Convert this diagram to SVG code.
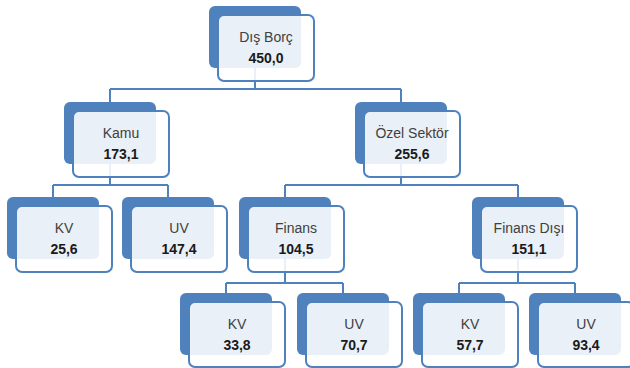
<svg xmlns="http://www.w3.org/2000/svg" width="630" height="368" viewBox="0 0 630 368">
<style>
.bg{fill:#4F81BD}
.fr{fill:#FFFFFF;fill-opacity:0.88;stroke:#4F81BD;stroke-width:2}
.cn{fill:none;stroke:#4F81BD;stroke-width:2}
.lb{font-family:"Liberation Sans",Arial,sans-serif;font-size:14px;fill:#404040;text-anchor:middle}
.vl{font-family:"Liberation Sans",Arial,sans-serif;font-size:14px;font-weight:bold;fill:#1A1A1A;text-anchor:middle}
</style>
<rect width="630" height="368" fill="#FFFFFF"/>
<g id="connectors">
<path class="cn" d="M255,68 V89 M110,89 H401 M110,89 V102 M401,89 V102"/>
<path class="cn" d="M110,164 V185 M53,185 H168 M53,185 V197 M168,185 V197"/>
<path class="cn" d="M401,164 V185 M285,185 H518 M285,185 V197 M518,185 V197"/>
<path class="cn" d="M285,259 V283 M226,283 H343 M226,283 V293 M343,283 V293"/>
<path class="cn" d="M518,259 V283 M459,283 H575 M459,283 V293 M575,283 V293"/>
</g>
<g id="dis-borc">
<rect class="bg" x="209" y="6" width="92" height="62" rx="6"/>
<rect class="fr" x="218" y="15" width="96" height="66" rx="6"/>
<text class="lb" x="266" y="42">Dış Borç</text>
<text class="vl" x="266" y="63">450,0</text>
</g>
<g id="kamu">
<rect class="bg" x="64" y="102" width="92" height="62" rx="6"/>
<rect class="fr" x="73" y="111" width="96" height="66" rx="6"/>
<text class="lb" x="121" y="138">Kamu</text>
<text class="vl" x="121" y="159">173,1</text>
</g>
<g id="ozel-sektor">
<rect class="bg" x="355" y="102" width="92" height="62" rx="6"/>
<rect class="fr" x="364" y="111" width="96" height="66" rx="6"/>
<text class="lb" x="412" y="138">Özel Sektör</text>
<text class="vl" x="412" y="159">255,6</text>
</g>
<g id="kamu-kv">
<rect class="bg" x="7" y="197" width="92" height="62" rx="6"/>
<rect class="fr" x="16" y="206" width="96" height="66" rx="6"/>
<text class="lb" x="64" y="233">KV</text>
<text class="vl" x="64" y="254">25,6</text>
</g>
<g id="kamu-uv">
<rect class="bg" x="122" y="197" width="92" height="62" rx="6"/>
<rect class="fr" x="131" y="206" width="96" height="66" rx="6"/>
<text class="lb" x="179" y="233">UV</text>
<text class="vl" x="179" y="254">147,4</text>
</g>
<g id="finans">
<rect class="bg" x="239" y="197" width="92" height="62" rx="6"/>
<rect class="fr" x="248" y="206" width="96" height="66" rx="6"/>
<text class="lb" x="296" y="233">Finans</text>
<text class="vl" x="296" y="254">104,5</text>
</g>
<g id="finans-disi">
<rect class="bg" x="472" y="197" width="92" height="62" rx="6"/>
<rect class="fr" x="481" y="206" width="96" height="66" rx="6"/>
<text class="lb" x="529" y="233">Finans Dışı</text>
<text class="vl" x="529" y="254">151,1</text>
</g>
<g id="finans-kv">
<rect class="bg" x="180" y="293" width="92" height="62" rx="6"/>
<rect class="fr" x="189" y="302" width="96" height="65" rx="6"/>
<text class="lb" x="237" y="329">KV</text>
<text class="vl" x="237" y="350">33,8</text>
</g>
<g id="finans-uv">
<rect class="bg" x="297" y="293" width="92" height="62" rx="6"/>
<rect class="fr" x="306" y="302" width="96" height="65" rx="6"/>
<text class="lb" x="354" y="329">UV</text>
<text class="vl" x="354" y="350">70,7</text>
</g>
<g id="finans-disi-kv">
<rect class="bg" x="413" y="293" width="92" height="62" rx="6"/>
<rect class="fr" x="422" y="302" width="96" height="65" rx="6"/>
<text class="lb" x="470" y="329">KV</text>
<text class="vl" x="470" y="350">57,7</text>
</g>
<g id="finans-disi-uv">
<rect class="bg" x="529" y="293" width="92" height="62" rx="6"/>
<rect class="fr" x="538" y="302" width="96" height="65" rx="6"/>
<text class="lb" x="586" y="329">UV</text>
<text class="vl" x="586" y="350">93,4</text>
</g>
</svg>
